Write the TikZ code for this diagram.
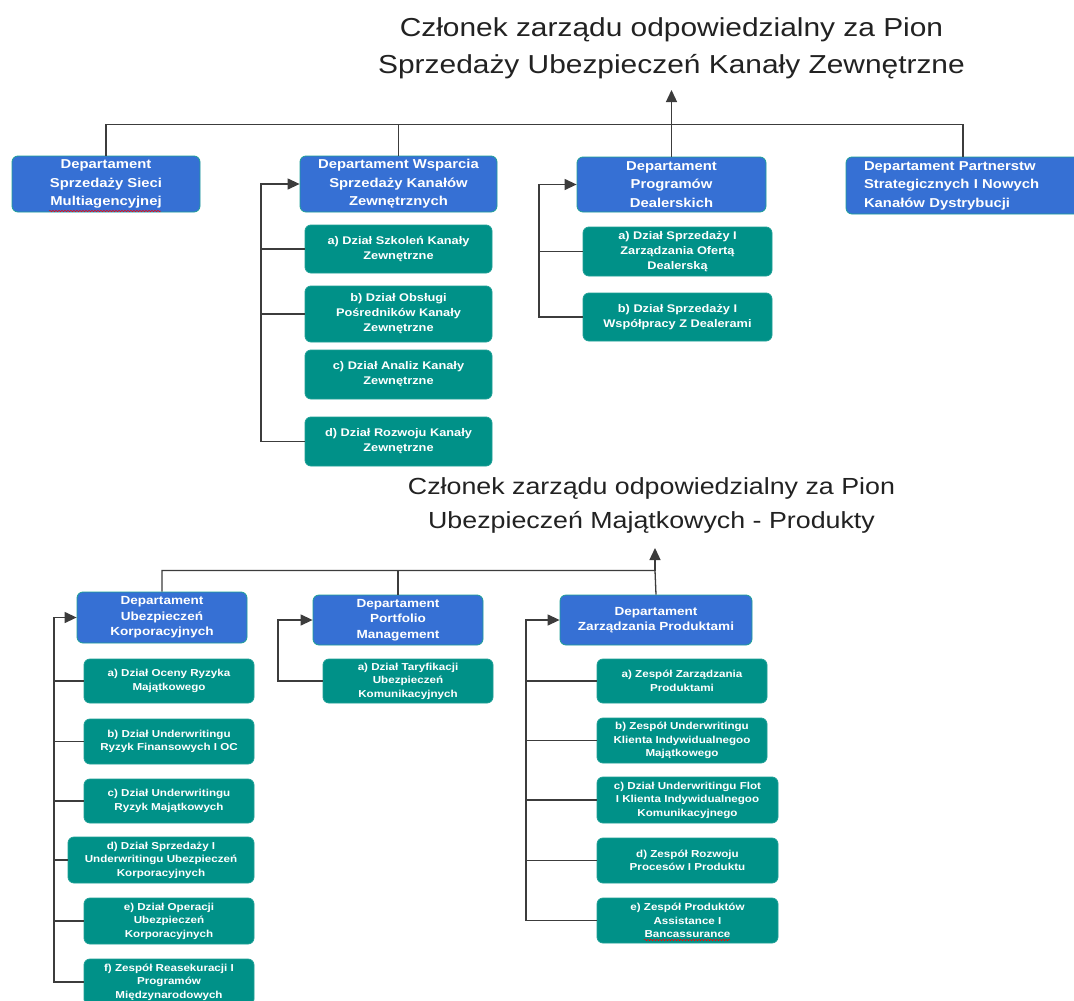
\documentclass[tikz,border=0pt]{standalone}
\usepackage{fontspec}
\setmainfont{Liberation Sans}[FakeStretch=1.15]
\usetikzlibrary{arrows.meta,decorations.pathmorphing}
\definecolor{deptblue}{RGB}{54,112,212}
\definecolor{subteal}{RGB}{0,145,136}
\definecolor{bordc}{RGB}{30,160,150}
\definecolor{lineg}{RGB}{60,60,60}
\definecolor{titlec}{RGB}{34,34,34}
\tikzset{
  boxbase/.style={draw=bordc, line width=0.8pt, rounded corners=6pt, text=white, align=center, inner sep=0pt},
  depttop/.style={boxbase, fill=deptblue, font=\fontsize{12.9}{18.5}\selectfont\bfseries},
  subtop/.style={boxbase, fill=subteal, font=\fontsize{11.1}{15}\selectfont\bfseries},
  deptbot/.style={boxbase, fill=deptblue, font=\fontsize{11.8}{15.5}\selectfont\bfseries},
  subbot/.style={boxbase, fill=subteal, font=\fontsize{10.1}{13.5}\selectfont\bfseries},
  conn/.style={draw=lineg, line width=1.3pt},
  arr/.style={-{Triangle[length=12pt,width=11pt]}},
  ttlA/.style={text=titlec, font=\fontsize{26}{37}\selectfont, anchor=base, inner sep=0pt},
  ttlB/.style={text=titlec, font=\fontsize{23.3}{34}\selectfont, anchor=base, inner sep=0pt},
  spell/.style={draw=red, line width=0.5pt, decorate, decoration={snake, amplitude=0.7pt, segment length=3pt}}
}
\begin{document}
\begin{tikzpicture}[x=1pt,y=-1pt]
\useasboundingbox (0,0) rectangle (1074,1001);
\clip (0,0) rectangle (1074,1001);
\fill[white] (0,0) rectangle (1074,1001);

% ---------- Titles ----------
\node[ttlA] (title1a) at (671.5,36) {Członek zarządu odpowiedzialny za Pion};
\node[ttlA] (title1b) at (671.5,73) {Sprzedaży Ubezpieczeń Kanały Zewnętrzne};
\node[ttlB] (title2a) at (651.5,494) {Członek zarządu odpowiedzialny za Pion};
\node[ttlB] (title2b) at (651.5,528) {Ubezpieczeń Majątkowych - Produkty};

% ---------- Top departments ----------
\node[depttop, minimum width=188pt, minimum height=56pt] (t1) at (106,184) {Departament\\Sprzedaży Sieci\\Multiagencyjnej};
\node[depttop, minimum width=197pt, minimum height=56pt] (t2) at (398.5,184) {Departament Wsparcia\\Sprzedaży Kanałów\\Zewnętrznych};
\node[depttop, minimum width=189pt, minimum height=55pt] (t3) at (671.5,184.5) {Departament\\Programów\\Dealerskich};
\node[depttop, minimum width=234pt, minimum height=57pt, text width=198pt, align=left] (t4) at (963,185.5) {Departament Partnerstw\\Strategicznych I Nowych\\Kanałów Dystrybucji};

% children of t2
\node[subtop, minimum width=187pt, minimum height=48pt] (c2a) at (398.5,249) {a) Dział Szkoleń Kanały\\Zewnętrzne};
\node[subtop, minimum width=187pt, minimum height=56pt] (c2b) at (398.5,314) {b) Dział Obsługi\\Pośredników Kanały\\Zewnętrzne};
\node[subtop, minimum width=187pt, minimum height=49pt] (c2c) at (398.5,374.5) {c) Dział Analiz Kanały\\Zewnętrzne};
\node[subtop, minimum width=187pt, minimum height=49pt] (c2d) at (398.5,441.5) {d) Dział Rozwoju Kanały\\Zewnętrzne};

% children of t3
\node[subtop, minimum width=189pt, minimum height=49pt] (c3a) at (677.5,251.5) {a) Dział Sprzedaży I\\Zarządzania Ofertą\\Dealerską};
\node[subtop, minimum width=189pt, minimum height=48pt] (c3b) at (677.5,317) {b) Dział Sprzedaży I\\Współpracy Z Dealerami};

% connectors top
\coordinate (hub1) at (671.5,124.5);
\coordinate (tip1) at (671.5,90);
\draw[conn] (t1.north) -- (t1.north |- hub1) -- (t4.north |- hub1) -- (t4.north);
\draw[conn] (t2.north) -- (t2.north |- hub1);
\draw[conn] (t3.north) -- (hub1);
\draw[conn,arr] (hub1) -- (tip1);

\coordinate (bx2) at (261,0);
\draw[conn,arr] (c2d.west) -- (c2d.west -| bx2) |- (t2.west);
\draw[conn] (c2a.west) -- (c2a.west -| bx2);
\draw[conn] (c2b.west) -- (c2b.west -| bx2);

\coordinate (bx3) at (539,0);
\draw[conn,arr] (c3b.west) -- (c3b.west -| bx3) |- (t3.west);
\draw[conn] (c3a.west) -- (c3a.west -| bx3);

% ---------- Bottom departments ----------
\node[deptbot, minimum width=170pt, minimum height=51pt] (b1) at (162,617.5) {Departament\\Ubezpieczeń\\Korporacyjnych};
\node[deptbot, minimum width=170pt, minimum height=50pt] (b2) at (398,620) {Departament\\Portfolio\\Management};
\node[deptbot, minimum width=192pt, minimum height=50pt] (b3) at (656,620) {Departament\\Zarządzania Produktami};

% children of b1
\node[subbot, minimum width=170pt, minimum height=44pt] (d1a) at (169,681) {a) Dział Oceny Ryzyka\\Majątkowego};
\node[subbot, minimum width=170pt, minimum height=45pt] (d1b) at (169,741.5) {b) Dział Underwritingu\\Ryzyk Finansowych I OC};
\node[subbot, minimum width=170pt, minimum height=44pt] (d1c) at (169,801) {c) Dział Underwritingu\\Ryzyk Majątkowych};
\node[subbot, minimum width=186pt, minimum height=46pt] (d1d) at (161,860) {d) Dział Sprzedaży I\\Underwritingu Ubezpieczeń\\Korporacyjnych};
\node[subbot, minimum width=170pt, minimum height=46pt] (d1e) at (169,921) {e) Dział Operacji\\Ubezpieczeń\\Korporacyjnych};
\node[subbot, minimum width=170pt, minimum height=46pt] (d1f) at (169,982) {f) Zespół Reasekuracji I\\Programów\\Międzynarodowych};

% child of b2
\node[subbot, minimum width=170pt, minimum height=44pt] (d2a) at (408,681) {a) Dział Taryfikacji\\Ubezpieczeń\\Komunikacyjnych};

% children of b3
\node[subbot, minimum width=170pt, minimum height=44pt] (d3a) at (682,681) {a) Zespół Zarządzania\\Produktami};
\node[subbot, minimum width=170pt, minimum height=45pt] (d3b) at (682,740.5) {b) Zespół Underwritingu\\Klienta Indywidualnegoo\\Majątkowego};
\node[subbot, minimum width=181pt, minimum height=46pt] (d3c) at (687.5,800) {c) Dział Underwritingu Flot\\I Klienta Indywidualnegoo\\Komunikacyjnego};
\node[subbot, minimum width=181pt, minimum height=45pt] (d3d) at (687.5,860.5) {d) Zespół Rozwoju\\Procesów I Produktu};
\node[subbot, minimum width=181pt, minimum height=45pt] (d3e) at (687.5,920.5) {e) Zespół Produktów\\Assistance I\\Bancassurance};

% connectors bottom
\coordinate (hub2) at (655,570.5);
\coordinate (tip2) at (655,548);
\draw[conn] (b1.north) -- (b1.north |- hub2) -- (hub2) -- (b3.north);
\draw[conn] (b2.north) -- (b2.north |- hub2);
\draw[conn,arr] (hub2) -- (tip2);

\coordinate (bxb1) at (54,0);
\draw[conn,arr] (d1f.west) -- (d1f.west -| bxb1) |- (b1.west);
\foreach \n in {d1a,d1b,d1c,d1d,d1e} \draw[conn] (\n.west) -- (\n.west -| bxb1);

\coordinate (bxb2) at (278,0);
\draw[conn,arr] (d2a.west) -- (d2a.west -| bxb2) |- (b2.west);

\coordinate (bxb3) at (526,0);
\draw[conn,arr] (d3e.west) -- (d3e.west -| bxb3) |- (b3.west);
\foreach \n in {d3a,d3b,d3c,d3d} \draw[conn] (\n.west) -- (\n.west -| bxb3);

% spell-check underlines
\draw[spell] (49,211) -- (161,211);
\draw[spell] (644,940) -- (730,940);
\end{tikzpicture}
\end{document}
